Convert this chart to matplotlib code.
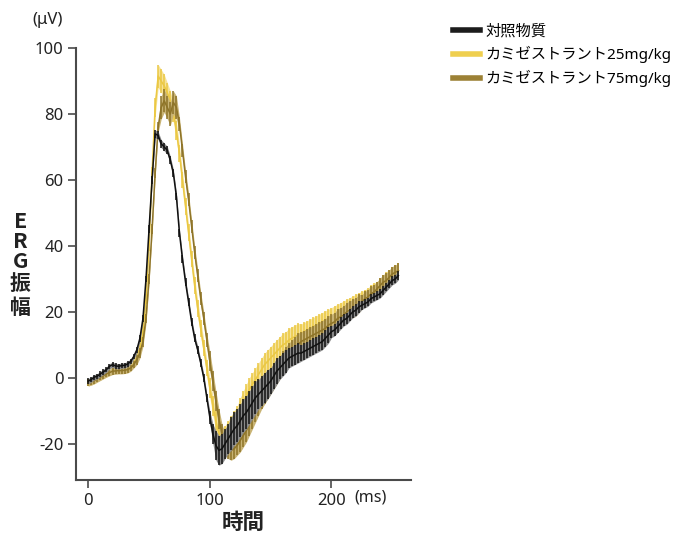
import numpy as np
import matplotlib
matplotlib.use("Agg")
import matplotlib.pyplot as plt
from matplotlib.lines import Line2D

plt.rcParams['font.family'] = ['Noto Sans', 'Noto Sans CJK JP', 'DejaVu Sans']

# time axis (ms), sampled every 2.5 ms
time_ms = np.arange(0, 255.1, 2.5)

series_names = ["対照物質", "カミゼストラント25mg/kg", "カミゼストラント75mg/kg"]

control_mean = [
    -1.0, -0.5, 0.2, 0.5, 1.2, 1.8, 2.5, 3.5, 4.0, 3.6,
    3.5, 3.7, 3.8, 4.2, 5.0, 6.5, 8.5, 12.0, 18.0, 30.0,
    45.0, 60.0, 74.0, 73.5, 71.0, 70.0, 69.0, 66.0, 62.0, 55.0,
    44.0, 36.0, 29.0, 23.0, 17.0, 12.0, 8.5, 4.5, 0.0, -6.0,
    -12.0, -17.0, -20.5, -22.0, -21.5, -20.0, -18.5, -17.0, -15.5, -14.5,
    -13.0, -11.5, -10.5, -9.0, -7.5, -6.0, -5.0, -4.0, -3.0, -2.0,
    -1.0, 0.5, 2.0, 3.0, 4.0, 5.0, 6.0, 6.5, 7.0, 7.5,
    7.5, 8.0, 8.5, 9.0, 9.5, 10.0, 10.5, 11.0, 12.0, 13.0,
    14.0, 14.5, 15.5, 16.5, 17.5, 18.0, 19.0, 20.0, 20.5, 21.5,
    22.0, 22.5, 23.0, 24.0, 24.5, 25.0, 25.5, 26.5, 27.5, 28.5,
    29.5, 30.0, 31.0,
]
control_err = (
    [0.8] * 16 + [1.0] * 4 + [1.2] * 10 + [1.2] * 10
    + [2.0, 3.0, 4.5, 4.5, 4.5, 4.5, 4.5, 5.0, 5.0, 5.0]
    + [5.0, 5.0, 5.0, 5.0, 5.0, 5.0, 4.5, 4.5, 4.5, 4.5]
    + [4.0, 4.0, 4.0, 3.5, 3.5, 3.5, 3.0, 3.0, 3.0, 3.0]
    + [2.5] * 10 + [1.8] * 10 + [1.3] * 13
)

low_mean = [
    -1.5, -1.2, -0.8, -0.2, 0.3, 0.8, 1.3, 1.8, 2.2, 2.3,
    2.3, 2.3, 2.4, 2.6, 3.2, 4.5, 6.5, 9.0, 14.0, 24.0,
    40.0, 62.0, 82.0, 91.5, 90.0, 88.5, 86.5, 84.0, 80.5, 75.0,
    68.0, 60.0, 52.0, 44.0, 36.0, 28.0, 21.0, 15.0, 9.0, 3.0,
    -3.0, -8.5, -13.0, -17.0, -18.5, -17.5, -16.0, -14.5, -13.0, -11.5,
    -9.5, -7.5, -5.5, -3.5, -2.0, -0.5, 1.0, 2.5, 4.0, 5.0,
    6.0, 7.0, 8.0, 9.0, 10.0, 10.5, 11.5, 12.0, 12.5, 13.0,
    13.5, 14.0, 14.5, 15.0, 15.5, 16.0, 16.5, 17.0, 17.5, 18.0,
    18.5, 19.0, 19.5, 20.0, 20.5, 21.0, 21.5, 22.0, 22.5, 23.0,
    24.0, 24.5, 25.0, 26.0, 26.5, 27.0, 28.0, 29.0, 30.0, 30.5,
    31.5, 32.0, 32.5,
]
low_err = (
    [1.0] * 16 + [1.5] * 4 + [1.5, 2.0, 3.0, 3.5, 3.5, 3.5, 3.0, 3.0, 3.0, 3.0]
    + [2.5] * 10 + [3.0] * 10 + [3.5] * 20 + [2.8] * 20 + [2.2] * 13
)

high_mean = [
    -1.5, -1.2, -0.8, -0.3, 0.2, 0.7, 1.2, 1.6, 2.0, 2.1,
    2.2, 2.2, 2.3, 2.5, 3.0, 4.0, 5.5, 7.5, 11.0, 18.0,
    30.0, 45.0, 62.0, 76.0, 82.0, 84.0, 82.0, 80.0, 83.5, 82.0,
    77.0, 69.0, 61.0, 54.0, 46.0, 38.0, 31.0, 24.0, 18.0, 11.5,
    5.0, -1.0, -7.0, -12.5, -17.0, -20.0, -21.5, -22.0, -21.5, -20.5,
    -19.0, -17.5, -16.0, -14.0, -12.0, -10.0, -8.0, -6.0, -4.5, -3.0,
    -1.5, 0.0, 1.5, 3.0, 4.5, 6.0, 7.0, 8.0, 9.0, 10.0,
    11.0, 11.5, 12.0, 12.5, 13.0, 13.5, 14.0, 14.5, 15.0, 16.0,
    16.5, 17.0, 18.0, 18.5, 19.0, 20.0, 20.5, 21.0, 21.5, 22.5,
    23.0, 24.0, 24.5, 25.5, 26.0, 27.0, 28.0, 29.0, 29.5, 30.5,
    31.5, 32.0, 32.5,
]
high_err = (
    [1.0] * 16 + [1.5] * 4 + [1.5] * 4 + [3.5] * 6 + [2.0] * 10
    + [3.0] * 10 + [3.5] * 20 + [2.8] * 20 + [2.2] * 13
)

y_ticks = [-20, 0, 20, 40, 60, 80, 100]
x_ticks = [0, 100, 200]

line_colors = ["#1c1c1c", "#efcf4f", "#9c8135"]
fill_colors = ["#8a8a8a", "#f6e39a", "#c8b374"]
stripe_colors = ["#111111", "#ebc843", "#8e7428"]

fig = plt.figure(figsize=(6.73, 5.34), dpi=100)
ax = fig.add_axes([0.113, 0.101, 0.497, 0.809])

t = np.asarray(time_ms)
# drawing order: 25 mg/kg below, 75 mg/kg, control on top
data = [(low_mean, low_err, 1, 2.0), (high_mean, high_err, 2, 2.2), (control_mean, control_err, 0, 2.4)]
for mean, err, ci, z in data:
    m = np.asarray(mean)
    e = np.asarray(err)
    ax.fill_between(t, m - e, m + e, color=fill_colors[ci], lw=0, zorder=z)
    ax.vlines(t, m - e, m + e, color=stripe_colors[ci], lw=1.1, zorder=z + 0.05)
    ax.plot(t, m, color=stripe_colors[ci], lw=1.1, zorder=z + 0.1)

ax.set_xlim(-10, 265)
ax.set_ylim(-31, 100)
ax.set_yticks(y_ticks)
ax.set_xticks(x_ticks)
ax.set_xticklabels([str(v) for v in x_ticks])
ax.set_yticklabels([str(v) for v in y_ticks])
for s in ["top", "right"]:
    ax.spines[s].set_visible(False)
for s in ["left", "bottom"]:
    ax.spines[s].set_color("#4a4a4a")
    ax.spines[s].set_linewidth(1.5)
ax.tick_params(axis="both", colors="#4a4a4a", labelcolor="#222222",
               length=6, width=1.2, labelsize=12, pad=3)

fig.text(0.07, 0.962, "(μV)", fontsize=12, color="#222222", ha="center", va="center")
fig.text(0.55, 0.068, "(ms)", fontsize=11.5, color="#222222", ha="center", va="center")
fig.text(0.361, 0.021, "時間", fontsize=15.5, fontweight="bold", color="#222222",
         ha="center", va="center", family=["Noto Sans CJK JP"])

# vertical stacked y label
ylab_chars = ["E", "R", "G", "振", "幅"]
ylab_pos = [221, 241, 261, 284, 307]
for ch, py in zip(ylab_chars, ylab_pos):
    cjk = ch in ("振", "幅")
    fig.text(0.030, 1 - py / 534, ch, fontsize=15 if cjk else 15.5,
             fontweight="bold", color="#222222", ha="center", va="center",
             family=["Noto Sans CJK JP"])

handles = [Line2D([], [], color=c, lw=4) for c in line_colors]
fig.legend(handles, series_names, loc="upper left", bbox_to_anchor=(0.664, 0.965),
           frameon=False, fontsize=11, handlelength=1.75, handletextpad=0.35,
           labelspacing=0.42, borderaxespad=0)

fig.savefig("out.png", dpi=100)
